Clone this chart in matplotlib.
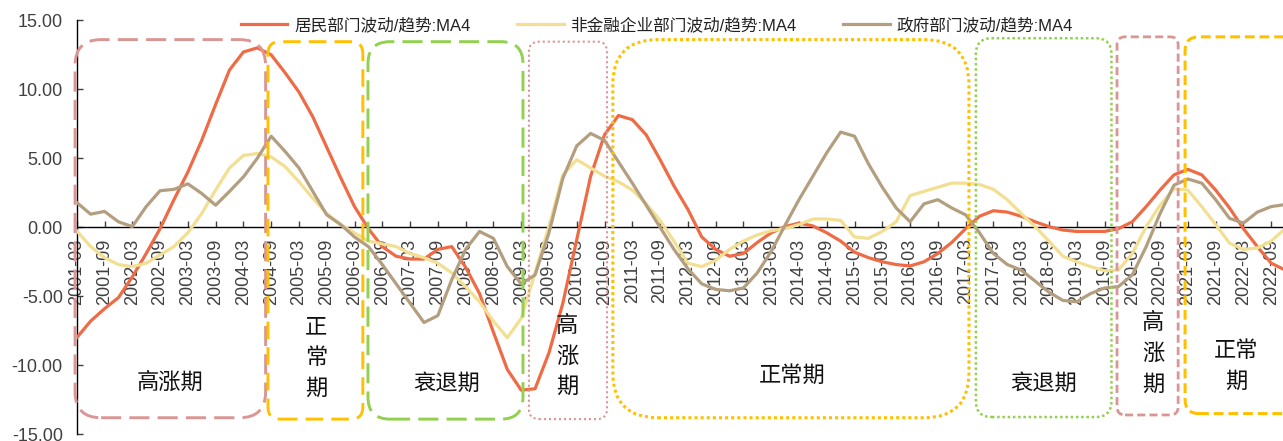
import numpy as np
import pandas as pd
import matplotlib.pyplot as plt
from matplotlib.patches import FancyBboxPatch
from matplotlib.transforms import IdentityTransform
from matplotlib.ticker import FormatStrFormatter

plt.rcParams['font.family'] = ['Liberation Sans', 'Noto Sans CJK SC']
plt.rcParams['axes.unicode_minus'] = False

# 季度序列 2001Q1 - 2022Q4
quarters = pd.period_range('2001Q1', periods=88, freq='Q')
quarter_labels = [f'{q.year}-{q.quarter * 3:02d}' for q in quarters]

# 居民部门波动/趋势:MA4
household = [-8.0, -6.8, -5.9, -5.1, -3.6, -1.9, -0.1, 2.0, 4.0, 6.3,
             8.9, 11.4, 12.7, 13.0, 12.5, 11.2, 9.8, 8.0, 5.8, 3.6,
             1.5, -0.1, -1.4, -2.1, -2.3, -2.3, -1.6, -1.4, -2.9, -4.8,
             -7.6, -10.3, -11.8, -11.7, -9.1, -5.5, -0.9, 3.7, 6.7, 8.1,
             7.8, 6.7, 4.9, 3.0, 1.3, -0.7, -1.6, -2.1, -1.9, -1.1,
             -0.4, 0.05, 0.3, 0.1, -0.4, -1.0, -1.8, -2.2, -2.5, -2.7,
             -2.8, -2.5, -1.9, -1.1, -0.1, 0.8, 1.2, 1.1, 0.8, 0.4,
             0.05, -0.2, -0.3, -0.3, -0.3, -0.1, 0.4, 1.5, 2.7, 3.8,
             4.2, 3.8, 2.7, 1.4, -0.1, -1.4, -2.6, -3.1]

# 非金融企业部门波动/趋势:MA4
corporate = [-0.25, -1.4, -2.2, -2.7, -2.85, -2.6, -2.0, -1.4, -0.4, 1.0,
             2.7, 4.3, 5.2, 5.35, 5.1, 4.4, 3.3, 2.1, 1.0, 0.2,
             -0.4, -1.0, -1.2, -1.4, -1.9, -2.2, -2.6, -3.3, -4.3, -5.4,
             -6.8, -8.0, -6.6, -3.3, 0.05, 3.8, 4.9, 4.3, 3.7, 3.3,
             2.7, 1.7, 0.5, -1.0, -2.6, -2.85, -2.4, -1.6, -1.0, -0.55,
             -0.25, -0.1, 0.2, 0.6, 0.6, 0.5, -0.7, -0.8, -0.3, 0.4,
             2.3, 2.6, 2.9, 3.2, 3.2, 3.1, 2.75, 2.0, 1.0, 0.05,
             -1.0, -2.1, -2.5, -2.85, -3.15, -3.1, -1.9, 0.05, 1.6, 2.8,
             2.7, 1.5, 0.2, -1.15, -1.6, -1.5, -1.0, -0.1]

# 政府部门波动/趋势:MA4
government = [1.8, 0.95, 1.15, 0.4, 0.05, 1.5, 2.65, 2.75, 3.15, 2.45,
              1.6, 2.6, 3.65, 5.0, 6.6, 5.5, 4.3, 2.6, 0.9, 0.2,
              -0.7, -1.4, -2.7, -4.1, -5.5, -6.9, -6.4, -3.8, -1.6, -0.3,
              -0.8, -2.85, -4.1, -3.45, -0.4, 3.55, 5.9, 6.8, 6.3, 4.75,
              3.2, 1.6, 0.0, -1.6, -3.0, -4.1, -4.5, -4.6, -4.4, -3.3,
              -1.75, 0.15, 2.0, 3.7, 5.4, 6.9, 6.6, 4.6, 2.9, 1.4,
              0.4, 1.7, 2.0, 1.4, 0.9, -0.4, -1.9, -2.7, -3.1, -3.9,
              -4.7, -5.3, -5.4, -4.8, -4.4, -4.3, -3.45, -1.4, 1.0, 3.05,
              3.5, 3.2, 2.0, 0.65, 0.3, 1.1, 1.5, 1.65]

series_names = ['居民部门波动/趋势:MA4', '非金融企业部门波动/趋势:MA4', '政府部门波动/趋势:MA4']
series_colors = ['#EF6B45', '#F3DF92', '#B39E80']

# 周期划分（按季度序号）
phase_names = ['高涨期', '正\n常\n期', '衰退期', '高\n涨\n期', '正常期', '衰退期', '高\n涨\n期', '正常\n期']
phase_start = [-0.12, 13.77, 20.97, 32.56, 38.6, 64.74, 74.9, 79.8]
phase_end = [13.6, 20.6, 32.13, 38.18, 64.24, 74.5, 79.3, 88.5]
phase_top = [13.6, 13.45, 13.45, 13.45, 13.6, 13.7, 13.8, 13.8]
phase_bottom = [-13.8, -13.9, -13.9, -13.9, -13.8, -13.75, -13.6, -13.5]
phase_text_x = [6.72, 17.23, 26.66, 35.3, 51.5, 69.6, 77.5, 83.5]
phase_text_y = [-11.3, -9.5, -11.4, -9.4, -10.8, -11.35, -9.2, -10.1]

pink, orange, green = '#D99694', '#FFC000', '#92D050'
box_colors = [pink, orange, green, pink, orange, green, pink, orange]
box_styles = [(0, (6.9, 2.8)), (0, (6.0, 2.8)), (0, (6.9, 2.8)), (0, (1, 1.4)),
              (0, (1, 1)), (0, (1, 1.1)), (0, (2.9, 1.5)), (0, (3.2, 1.6))]
box_widths = [2.1, 2.1, 2.1, 1.5, 2.2, 1.8, 2.0, 2.2]
box_radius = [26, 12, 22, 10, 45, 16, 8, 14]

fig = plt.figure(figsize=(12.83, 4.41), dpi=100)
ax = fig.add_axes([0.0598, 0.0152, 0.9402, 0.9388])

x = np.arange(len(quarters))
for vals, name, c in zip([household, corporate, government], series_names, series_colors):
    ax.plot(x, vals, color=c, lw=2.3, label=name, zorder=3)

ax.set_xlim(0, 86.85)
ax.set_ylim(-15, 15)
ax.set_yticks(np.arange(-15, 15.1, 5))
ax.yaxis.set_major_formatter(FormatStrFormatter('%.2f'))
ax.set_xticks(x[::2])
ax.set_xticklabels(quarter_labels[::2])

ax.spines['top'].set_visible(False)
ax.spines['right'].set_visible(False)
ax.spines['bottom'].set_position(('data', 0))
for s in ['left', 'bottom']:
    ax.spines[s].set_linewidth(1.0)
ax.tick_params(axis='both', direction='in', length=4, width=1, labelsize=13, colors='#404040')
ax.tick_params(axis='x', pad=8, labelrotation=90)
ax.tick_params(axis='y', pad=10)
for lab in ax.get_xticklabels():
    lab.set_va('top')
    lab.set_ha('center')

# 周期框
for i in range(len(phase_names)):
    (x0, y0), (x1, y1) = ax.transData.transform([(phase_start[i], phase_bottom[i]),
                                                 (phase_end[i], phase_top[i])])
    box = FancyBboxPatch((x0, y0), x1 - x0, y1 - y0,
                         boxstyle=f'round,pad=0,rounding_size={box_radius[i]}',
                         transform=IdentityTransform(), fill=False,
                         edgecolor=box_colors[i], linestyle=box_styles[i],
                         lw=box_widths[i], capstyle='butt', zorder=5)
    fig.add_artist(box)
    ax.text(phase_text_x[i], phase_text_y[i], phase_names[i], ha='center', va='center',
            fontsize=16, linespacing=1.6, color='#111111', zorder=6)

ax.legend(loc='center', bbox_to_anchor=(0.512, 0.943), bbox_transform=fig.transFigure,
          ncol=3, frameon=False, fontsize=12, handlelength=2.8, handletextpad=0.4,
          columnspacing=2.8, labelcolor='#222222')

fig.savefig('out.png', dpi=100)
